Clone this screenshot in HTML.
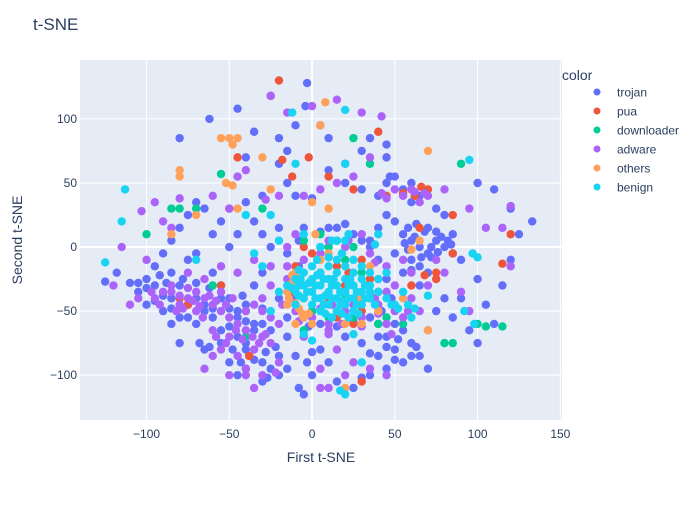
<!DOCTYPE html>
<html><head><meta charset="utf-8"><style>
body{margin:0;background:#fff}
svg{font-family:"Liberation Sans",sans-serif}
</style></head><body>
<svg id="chart" width="700" height="500">
<text x="33" y="30" font-size="17" fill="#2a3f5f">t-SNE</text>
<rect x="80" y="60" width="482" height="360" fill="#e5ecf6"/>
<g id="grid"></g>
<g id="marks"></g>
<g id="ticks"></g>
<text x="321" y="462" font-size="14" fill="#2a3f5f" text-anchor="middle">First t-SNE</text>
<text transform="translate(22,240) rotate(-90)" font-size="14" fill="#2a3f5f" text-anchor="middle">Second t-SNE</text>
<g id="legend">
<text x="562" y="80" font-size="14" fill="#2a3f5f">color</text>
</g>
</svg>
<script>
const seriesNames=["trojan","pua","downloader","adware","others","benign"];
const seriesColors=["#636efa","#EF553B","#00cc96","#ab63fa","#FFA15A","#19d3f3"];
const xTicks=[-100,-50,0,50,100,150];
const yTicks=[-100,-50,0,50,100];
const trojan=[[-125,-27],[-118,-20],[-110,-28],[-105,-35],[-100,-45],[-95,-30],[-90,-50],[-85,-40],[-80,-30],[-75,-10],[-70,-5],[-65,-45],[-60,-55],[-55,-75],[-50,-90],[-45,-100],[-40,-80],[-35,-60],[-30,-105],[-25,-95],[-20,-85],[-15,-70],[-8,-110],[-5,-115],[-80,85],[-62,100],[-45,108],[-40,70],[-35,90],[-20,85],[-20,65],[-15,75],[-10,95],[-4,110],[-3,128],[5,95],[10,85],[20,65],[30,75],[35,85],[45,80],[45,70],[47,55],[45,50],[55,45],[60,35],[65,40],[75,30],[80,25],[85,10],[55,10],[60,5],[65,0],[70,-5],[75,5],[80,0],[85,-5],[60,-10],[65,-15],[70,-20],[50,-5],[55,-20],[90,-10],[100,-25],[105,-45],[110,-60],[115,-30],[120,-10],[125,10],[133,20],[110,45],[100,50],[120,30],[45,-70],[50,-80],[55,-90],[40,-85],[35,-100],[60,-75],[65,-85],[70,-95],[30,-75],[20,-70],[10,-90],[5,-80],[0,-100],[15,-105],[25,-110],[-30,40],[-40,35],[-35,20],[-30,10],[-25,0],[-20,15],[-45,10],[-50,0],[-55,20],[-60,10],[-65,30],[-70,35],[-75,25],[-80,15],[-85,5],[-90,-5],[-95,-15],[-100,-25],[-20,-40],[-15,-55],[-50,-40],[-45,-50],[-40,-45],[-55,-30],[-60,-20],[-70,-60],[-75,-55],[-85,-60],[-80,-75],[-65,-80],[-35,-30],[-30,-20],[45,25],[40,15],[35,5],[50,20],[-5,15],[-8,5],[5,12],[10,15],[15,15],[20,18],[25,10],[30,5],[-10,40],[-15,50],[0,38],[10,60],[20,50],[30,45],[40,40],[50,55],[60,50],[65,-30],[80,-40],[75,-50],[95,-65],[100,-75],[90,-40],[85,-55],[70,-65],[62,8],[68,12],[72,-8],[58,-2],[-62,-78],[-68,-75],[-40,-95],[-35,-88],[45,-95],[50,-88],[40,-60],[-30,-48],[-42,-38],[-88,-28],[58,15],[63,18],[70,15],[75,12],[78,8],[82,5],[72,0],[66,-8],[60,-18],[56,3],[76,-4],[84,2],[-95,-42],[-90,-38],[-85,-48],[-80,-55],[-75,-45],[-70,-40],[-65,-50],[-60,-48],[-55,-40],[-50,-48],[-45,-55],[-40,-58],[-35,-65],[-30,-60],[-25,-65],[-50,-62],[-45,-70],[-40,-75],[-55,-65],[-48,-80],[-43,-90],[-38,-85],[-28,-82],[-22,-78],[-30,-90],[-62,-32],[-70,-28],[-78,-25],[-85,-20],[-92,-22],[-100,-32],[-105,-28],[-15,-5],[-8,-15],[-12,-40],[-5,-55],[5,-60],[15,-62],[25,-58],[35,-55],[42,-50],[48,-40],[45,-25],[40,-10],[35,0],[-2,-62],[50,-60],[55,-65],[45,-78],[40,-70],[52,-72],[35,-83],[60,-85],[63,-78],[30,-102],[0,-82],[-10,-85],[-15,-95],[-20,-100],[-27,-102],[-3,-90]];
const pua=[[-20,130],[-2,70],[10,55],[25,45],[40,90],[45,40],[60,45],[70,45],[75,-20],[75,-25],[115,-13],[120,10],[-5,0],[0,-5],[10,-40],[15,-55],[30,-50],[25,-60],[-10,-30],[-55,-30],[-80,-40],[60,-30],[30,-105],[65,15],[85,25],[5,-20],[20,-30],[35,-25],[-12,55],[-25,118],[-10,-15],[-8,-25],[15,-15],[22,-20],[30,-10],[35,-40],[0,-50],[10,-8],[-12,-35],[40,-35],[55,42],[62,40],[66,47],[-40,-50],[-75,-45],[-38,-85],[-45,70],[-50,30],[-18,68],[68,-22],[85,-5]];
const downloader=[[5,10],[10,0],[15,5],[20,-10],[25,0],[-5,5],[30,-20],[35,65],[45,-55],[55,-60],[80,-75],[100,-60],[105,-62],[90,65],[-30,30],[-60,-30],[-40,-70],[0,-50],[20,-40],[25,85],[-85,30],[-55,57],[-80,30],[-70,30],[-100,10],[85,-75],[115,-62],[10,-55],[25,-55],[-5,-65],[40,-60]];
const adware=[[-115,0],[-105,-40],[-95,-40],[-90,-35],[-85,-30],[-80,-45],[-75,-40],[-70,-35],[-65,-40],[-60,-45],[-55,-50],[-50,-55],[-45,-60],[-40,-50],[-35,-45],[-30,-50],[-25,-55],[-20,-60],[-70,-50],[-60,-65],[-50,-70],[-40,-65],[-30,-70],[-55,-80],[-45,-85],[-35,-80],[-25,-75],[-20,-90],[-40,-95],[-30,-100],[-75,-20],[-65,-25],[-55,-15],[-45,-20],[-35,-10],[-100,-10],[-103,28],[-95,35],[-80,38],[-60,40],[-50,30],[-45,55],[-40,60],[-28,37],[-20,40],[-25,118],[-15,105],[0,110],[15,115],[30,105],[42,102],[35,70],[25,55],[15,50],[5,45],[-5,40],[50,45],[55,40],[60,45],[65,35],[70,40],[45,-60],[50,-50],[40,-45],[55,-55],[60,-40],[65,-50],[30,-55],[20,-50],[10,-60],[0,-55],[-10,-50],[15,-80],[25,-90],[35,-95],[45,-100],[20,-100],[5,-95],[10,-65],[-5,-70],[75,-10],[80,-20],[70,-30],[90,-35],[95,-50],[60,-20],[55,-10],[45,-15],[80,45],[95,30],[105,15],[115,15],[120,-15],[120,32],[-10,10],[-15,0],[-25,-15],[-15,-25],[-5,-10],[5,-5],[10,5],[20,0],[30,10],[35,-5],[25,-20],[40,-25],[45,-35],[50,-30],[-85,15],[-90,20],[-110,-45],[-120,-30],[-60,-85],[-65,-95],[-50,-100],[-35,-110],[10,-110],[42,42],[45,38],[62,43],[68,42],[12,-45],[25,-45],[38,-40],[-85,-35],[-80,-38],[-75,-32],[-72,-42],[-68,-46],[-62,-38],[-58,-42],[-55,-35],[-52,-45],[-48,-40],[-82,-50],[-78,-48],[-66,-55],[-46,-65],[-42,-72],[-52,-75],[-36,-70],[-32,-75],[-28,-68],[-58,-70],[-92,-45],[-97,-35],[-40,-100],[-22,-98],[5,-48],[18,-60],[30,-62],[40,-52],[-8,-58],[10,-68],[5,-110],[-30,-40],[-25,-30],[-18,-45],[48,-68],[58,-50],[38,-12],[5,0],[22,5],[-15,-15]];
const others=[[-50,85],[-55,85],[-45,85],[-48,80],[-52,50],[-48,48],[-80,55],[-80,60],[-30,70],[-25,45],[-10,-60],[-5,-55],[-15,-45],[0,-60],[-10,-20],[5,-10],[10,-5],[20,-60],[30,-60],[40,-50],[70,75],[70,-65],[10,30],[0,35],[-5,-40],[35,-15],[-15,-35],[-12,-28],[-8,-48],[-12,-22],[-14,-40],[-14,-30],[-6,-52],[-2,-52],[-10,-44],[2,10],[5,95],[8,113],[-45,30],[-70,25],[-85,10],[20,-110],[28,-40],[55,-40],[65,5],[60,-2]];
const benign=[[-15,-30],[-10,-25],[-10,-35],[-5,-20],[-5,-30],[-5,-40],[0,-25],[0,-35],[0,-45],[5,-20],[5,-30],[5,-40],[5,-50],[10,-25],[10,-35],[10,-45],[15,-20],[15,-30],[15,-40],[15,-50],[20,-25],[20,-35],[20,-45],[25,-30],[25,-40],[25,-50],[30,-25],[30,-35],[30,-45],[35,-30],[35,-40],[40,-35],[-10,-45],[0,-15],[10,-15],[20,-15],[25,-20],[-20,-35],[12,-55],[22,-55],[-115,20],[-113,45],[-125,-12],[-70,-10],[-35,-5],[-20,5],[-10,65],[20,65],[95,68],[98,-60],[100,-8],[97,-5],[55,-35],[50,-45],[30,-90],[20,-115],[17,-112],[-40,25],[-25,25],[-5,10],[15,5],[40,10],[-25,-50],[45,-20],[20,107],[-12,105],[-8,-30],[8,-38],[18,-42],[-2,-28],[-12,-32],[-8,-38],[-3,-35],[2,-30],[2,-40],[7,-25],[7,-45],[12,-30],[12,-40],[17,-35],[17,-45],[22,-30],[22,-40],[27,-35],[27,-45],[32,-30],[32,-40],[-7,-25],[3,-22],[13,-25],[23,-25],[10,-8],[15,-10],[18,-5],[25,-10],[30,-15],[35,-20],[20,5],[12,5],[5,0],[35,-35],[40,-25],[45,-40],[52,-48],[58,-45],[62,-48],[48,-45],[18,-52],[8,-52],[28,-52],[38,-45],[-8,-18],[3,-10],[22,10],[-30,-15],[25,-68],[-5,-68],[0,-73],[70,-38],[60,-55],[92,-50],[38,2]];
const allSeries=[trojan,pua,downloader,adware,others,benign];
const L=80,R=562,T=60,B=420;
const xMin=-140.2,xMax=151,yMin=-135,yMax=146;
function sx(v){return L+(v-xMin)/(xMax-xMin)*(R-L);}
function sy(v){return B-(v-yMin)/(yMax-yMin)*(B-T);}
const NS="http://www.w3.org/2000/svg";
const grid=document.getElementById('grid'),ticks=document.getElementById('ticks'),marks=document.getElementById('marks'),legend=document.getElementById('legend');
xTicks.forEach(t=>{
  const l=document.createElementNS(NS,'line');
  l.setAttribute('x1',sx(t));l.setAttribute('x2',sx(t));l.setAttribute('y1',T);l.setAttribute('y2',B);
  l.setAttribute('stroke','#fff');l.setAttribute('stroke-width',t===0?2:1);
  
  
  grid.appendChild(l);
  const tx=document.createElementNS(NS,'text');
  tx.setAttribute('x',sx(t));tx.setAttribute('y',B+18);tx.setAttribute('font-size','12');tx.setAttribute('fill','#2a3f5f');tx.setAttribute('text-anchor','middle');
  tx.textContent=t<0?'\u2212'+Math.abs(t):t;
  
  
  ticks.appendChild(tx);
});
yTicks.forEach(t=>{
  const l=document.createElementNS(NS,'line');
  l.setAttribute('y1',sy(t));l.setAttribute('y2',sy(t));l.setAttribute('x1',L);l.setAttribute('x2',R);
  l.setAttribute('stroke','#fff');l.setAttribute('stroke-width',t===0?2:1);
  
  
  grid.appendChild(l);
  const tx=document.createElementNS(NS,'text');
  tx.setAttribute('x',L-3);tx.setAttribute('y',sy(t)+4);tx.setAttribute('font-size','12');tx.setAttribute('fill','#2a3f5f');tx.setAttribute('text-anchor','end');
  tx.textContent=t<0?'\u2212'+Math.abs(t):t;
  
  
  ticks.appendChild(tx);
});
allSeries.forEach((pts,si)=>{
  pts.forEach(p=>{
    const c=document.createElementNS(NS,'circle');
    c.setAttribute('cx',sx(p[0]));c.setAttribute('cy',sy(p[1]));c.setAttribute('r',4.2);
    c.setAttribute('fill',seriesColors[si]);
    
    
    marks.appendChild(c);
  });
  const y=92+si*19;
  const c=document.createElementNS(NS,'circle');
  c.setAttribute('cx',597);c.setAttribute('cy',y);c.setAttribute('r',3.5);c.setAttribute('fill',seriesColors[si]);
  
  
  legend.appendChild(c);
  const tx=document.createElementNS(NS,'text');
  tx.setAttribute('x',617);tx.setAttribute('y',y+4.5);tx.setAttribute('font-size','12');tx.setAttribute('fill','#2a3f5f');
  tx.textContent=seriesNames[si];
  
  
  legend.appendChild(tx);
});
</script>
</body></html>
